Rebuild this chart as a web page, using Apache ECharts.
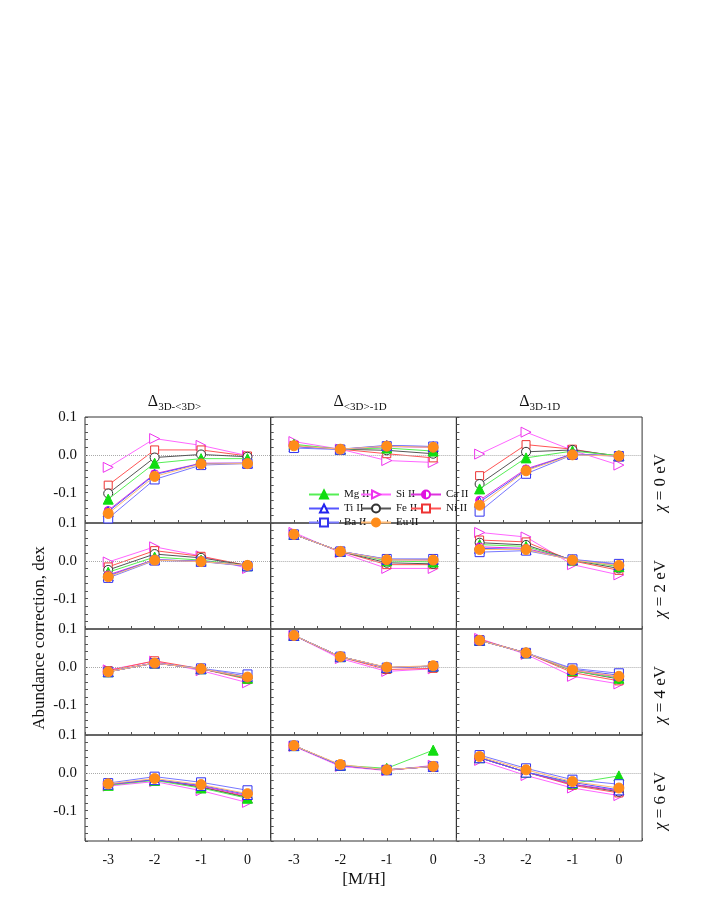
<!DOCTYPE html>
<html><head><meta charset="utf-8">
<script src="https://cdn.jsdelivr.net/npm/echarts@6/dist/echarts.min.js"></script>
<style>html,body{margin:0;padding:0;background:#fff}#c{width:708px;height:917px}</style>
</head><body><div id="c"></div>
<script>
const xVals = [-3, -2, -1, 0];
const colTitles = ['3D-<3D>', '<3D>-1D', '3D-1D'];
const rowLabels = ['0', '2', '4', '6'];
// each species: 12 panels (row-major: chi=0 col1..3, chi=2 ..., ) x 4 points
const siII = [
 [-0.033,0.043,0.025,-0.002],[0.035,0.015,-0.015,-0.02],[0.002,0.06,0.012,-0.027],
 [-0.003,0.037,0.013,-0.02],[0.075,0.022,-0.02,-0.02],[0.075,0.063,-0.01,-0.037],
 [-0.008,0.015,-0.01,-0.042],[0.083,0.022,-0.012,-0.005],[0.075,0.033,-0.025,-0.045],
 [-0.035,-0.023,-0.047,-0.078],[0.07,0.017,0.006,0.02],[0.033,-0.007,-0.04,-0.06]];
const niII = [
 [-0.08,0.013,0.013,-0.003],[0.025,0.015,0.003,-0.008],[-0.055,0.027,0.015,-0.005],
 [-0.016,0.027,0.012,-0.012],[0.07,0.025,-0.01,-0.01],[0.055,0.05,0,-0.025],
 [-0.01,0.016,-0.005,-0.033],[0.083,0.026,-0.007,-0.004],[0.072,0.037,-0.015,-0.037],
 [-0.031,-0.018,-0.037,-0.063],[0.072,0.02,0.007,0.017],[0.04,0.002,-0.033,-0.053]];
const feII = [
 [-0.102,-0.007,0.001,-0.005],[0.023,0.015,0.012,0.003],[-0.077,0.008,0.013,-0.003],
 [-0.024,0.018,0.008,-0.012],[0.07,0.025,-0.005,-0.008],[0.048,0.042,0.002,-0.02],
 [-0.013,0.01,-0.005,-0.03],[0.083,0.027,-0.002,0.002],[0.07,0.037,-0.01,-0.032],
 [-0.032,-0.018,-0.038,-0.065],[0.072,0.02,0.008,0.017],[0.04,0.002,-0.03,-0.05]];
const mgII = [
 [-0.117,-0.022,-0.01,-0.01],[0.028,0.015,0.018,0.01],[-0.09,-0.008,0.01,-0.002],
 [-0.03,0.01,0.002,-0.013],[0.07,0.025,0,-0.003],[0.043,0.038,0.002,-0.015],
 [-0.013,0.01,-0.005,-0.03],[0.083,0.027,-0.002,0.002],[0.07,0.037,-0.01,-0.03],
 [-0.033,-0.02,-0.04,-0.067],[0.072,0.02,0.012,0.06],[0.04,0.002,-0.028,-0.008]];
const caII = [
 [-0.147,-0.05,-0.022,-0.022],[0.023,0.015,0.022,0.02],[-0.12,-0.037,0.002,-0.003],
 [-0.037,0.003,-0.001,-0.013],[0.07,0.025,0.003,0.002],[0.037,0.033,0.003,-0.012],
 [-0.013,0.01,-0.005,-0.028],[0.083,0.027,-0.002,0.002],[0.07,0.037,-0.008,-0.027],
 [-0.031,-0.018,-0.035,-0.06],[0.072,0.02,0.008,0.017],[0.04,0.002,-0.03,-0.047]];
const tiII = [
 [-0.15,-0.052,-0.023,-0.022],[0.022,0.015,0.025,0.022],[-0.125,-0.04,0.002,-0.003],
 [-0.04,0.003,-0.001,-0.013],[0.07,0.025,0.004,0.004],[0.033,0.03,0.003,-0.01],
 [-0.013,0.01,-0.005,-0.025],[0.083,0.027,-0.002,0.002],[0.07,0.037,-0.007,-0.022],
 [-0.03,-0.018,-0.033,-0.057],[0.072,0.02,0.008,0.017],[0.04,0.002,-0.025,-0.045]];
const baII = [
 [-0.168,-0.065,-0.027,-0.023],[0.018,0.014,0.023,0.022],[-0.15,-0.05,0,-0.003],
 [-0.045,0.001,-0.002,-0.014],[0.07,0.025,0.005,0.005],[0.023,0.027,0.004,-0.008],
 [-0.013,0.01,-0.004,-0.02],[0.083,0.027,-0.002,0.002],[0.07,0.037,-0.004,-0.017],
 [-0.027,-0.01,-0.025,-0.046],[0.072,0.02,0.008,0.017],[0.047,0.012,-0.018,-0.03]];
const euII = [
 [-0.155,-0.057,-0.024,-0.023],[0.024,0.015,0.023,0.02],[-0.133,-0.042,0,-0.003],
 [-0.042,0.002,-0.002,-0.012],[0.07,0.025,0.003,0.002],[0.03,0.03,0.002,-0.012],
 [-0.013,0.01,-0.005,-0.027],[0.083,0.027,-0.001,0.003],[0.07,0.037,-0.008,-0.025],
 [-0.029,-0.015,-0.031,-0.055],[0.072,0.022,0.008,0.017],[0.043,0.008,-0.023,-0.04]];

const halfMag = {type:'linear',x:0,y:0,x2:1,y2:0,colorStops:[{offset:0,color:'#e010e0'},{offset:0.5,color:'#e010e0'},{offset:0.5,color:'#fff'},{offset:1,color:'#fff'}]};
const species = [
 {name:'Si II', d:siII, sym:'path://M0,0 L10,6 L0,12 Z', line:'#ff66ff', fill:'#fff', border:'#ee33ee', size:10},
 {name:'Ni II', d:niII, sym:'rect', line:'#ff5555', fill:'#fff', border:'#ee3333', size:8},
 {name:'Fe II', d:feII, sym:'circle', line:'#555555', fill:'#fff', border:'#333', size:9},
 {name:'Mg II', d:mgII, sym:'triangle', line:'#55ee55', fill:'#11dd11', border:'#11dd11', size:10},
 {name:'Ca II', d:caII, sym:'circle', line:'#dd33dd', fill:halfMag, border:'#e010e0', size:8},
 {name:'Ti II', d:tiII, sym:'triangle', line:'#5555ff', fill:'#fff', border:'#2222ee', size:10},
 {name:'Ba II', d:baII, sym:'rect', line:'#7777ff', fill:'#fff', border:'#3333ee', size:9},
 {name:'Eu II', d:euII, sym:'circle', line:'#ffbb77', fill:'#ff8c1a', border:'#ff8c1a', size:10}
];
const F = "'Liberation Serif','DejaVu Serif',serif";
const L0 = 85, W = 185.7, T0 = 417, H = 106;
const grids=[], xAxes=[], yAxes=[], series=[];
for (let r=0;r<4;r++) for (let c=0;c<3;c++){
  const g=r*3+c;
  grids.push({left:L0+c*W, top:T0+r*H, width:W, height:H, show:true, borderColor:'#333', borderWidth:1, backgroundColor:'transparent'});
  xAxes.push({gridIndex:g, type:'value', min:-3.5, max:0.5, interval:0.5, position:'bottom',
    axisLine:{show:false, onZero:false}, splitLine:{show:false},
    axisTick:{show:true, inside:true, length:3, lineStyle:{color:'#555'}},
    axisLabel:{show:r===3, fontFamily:F, fontSize:14, color:'#111', margin:12,
      formatter:v=>Number.isInteger(v)? String(v):''}});
  yAxes.push({gridIndex:g, type:'value', min:-0.18, max:0.1, interval:0.02, position:'left',
    axisLine:{show:false, onZero:false}, splitLine:{show:false},
    axisTick:{show:true, inside:true, length:3, lineStyle:{color:'#555'}},
    axisLabel:{show:c===0, fontFamily:F, fontSize:15, color:'#111', margin:8,
      formatter:v=>{ if(Math.abs(v-0.1)<1e-6) return '0.1'; if(Math.abs(v)<1e-6) return '0.0'; if(Math.abs(v+0.1)<1e-6) return '-0.1'; return '';}}});
  species.forEach((s,i)=>{
    const o={name:s.name, type:'line', xAxisIndex:g, yAxisIndex:g,
      data:xVals.map((x,k)=>[x,s.d[g][k]]), symbol:s.sym, symbolSize:s.size, showSymbol:true,
      lineStyle:{color:s.line, width:1}, itemStyle:{color:s.fill, borderColor:s.border, borderWidth:1},
      color:s.line, z:3+i, animation:false};
    if(i===0) o.markLine={silent:true, symbol:'none', label:{show:false}, lineStyle:{color:'#aaa', type:'dotted', width:1}, data:[{yAxis:0}]};
    series.push(o);
  });
}
const mkLeg=(names,left)=>({orient:'vertical', left:left, top:484, itemWidth:30, itemHeight:10, itemGap:3,
  textStyle:{fontFamily:F, fontSize:11, color:'#111'}, data:names});
const graphic=[];
colTitles.forEach((t,c)=>{
  graphic.push({type:'text', left:L0+c*W+W/2-30, top:394, style:{
    rich:{a:{fontFamily:F,fontSize:16,fill:'#111'}, s:{fontFamily:F,fontSize:11,fill:'#111',padding:[10,0,0,0]}},
    text:'{a|Δ}{s|'+t+'}'}});
});
rowLabels.forEach((t,r)=>{
  graphic.push({type:'text', x:652, y:T0+r*H+H/2+42, rotation:Math.PI/2, style:{
    rich:{i:{fontFamily:F,fontSize:17,fontStyle:'italic',fill:'#111'}, n:{fontFamily:F,fontSize:17,fill:'#111'}},
    text:'{i|χ}{n| = '+t+' eV}'}});
});
graphic.push({type:'text', x:40, y:638, rotation:Math.PI/2, style:{text:'Abundance correction, dex', fontFamily:F, fontSize:17, fill:'#111', align:'center', verticalAlign:'middle'}});
graphic.push({type:'text', x:364, y:880, style:{text:'[M/H]', fontFamily:F, fontSize:17, fill:'#111', align:'center', verticalAlign:'middle'}});
const chart=echarts.init(document.getElementById('c'));
chart.setOption({animation:false, backgroundColor:'#fff', grid:grids, xAxis:xAxes, yAxis:yAxes, series:series,
  legend:[mkLeg(['Mg II','Ti II','Ba II'],303), mkLeg(['Si II','Fe II','Eu II'],355), mkLeg(['Ca II','Ni II'],405)],
  graphic:graphic});
</script></body></html>
